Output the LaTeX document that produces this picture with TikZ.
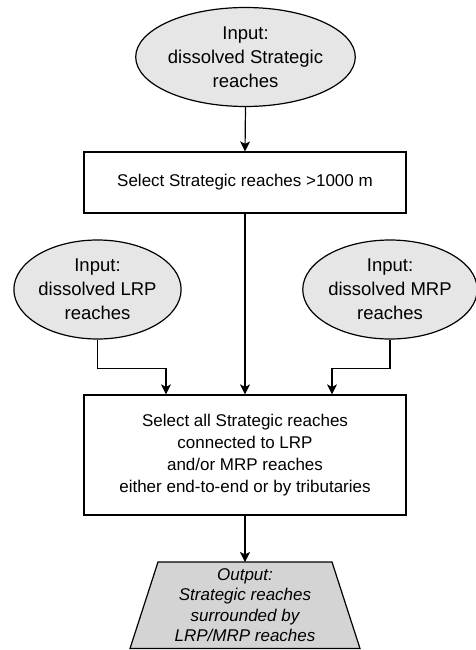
\documentclass[tikz,border=0pt]{standalone}
\usepackage{fontspec}
\setmainfont{Liberation Sans}
\usetikzlibrary{arrows.meta,shapes.geometric}
\definecolor{inputfill}{HTML}{E6E6E6}
\definecolor{outputfill}{HTML}{D4D4D4}
\begin{document}
\begin{tikzpicture}[x=1pt,y=-1pt,
  every node/.style={font=\fontsize{17}{22}\selectfont, align=center},
  inp/.style={ellipse, draw, line width=1.2pt, fill=inputfill,
    minimum width=165pt, minimum height=99pt, inner sep=0pt,
    font=\fontsize{18.5}{24}\selectfont},
  proc/.style={rectangle, draw, line width=1.2pt, fill=white,
    minimum width=322pt, inner sep=0pt},
  flow/.style={line width=1.2pt, -{Stealth[length=10pt,width=10pt,inset=2.5pt]}}]
  \useasboundingbox (0,0) rectangle (475,650);

  % inputs
  \node[inp] (strat) at (245.5,57) {Input:\\dissolved Strategic\\reaches};
  \node[inp] (lrp) at (97.5,289.5) {Input:\\dissolved LRP\\reaches};
  \node[inp] (mrp) at (390,289.5) {Input:\\dissolved MRP\\reaches};

  % processing steps
  \node[proc, minimum height=61pt] (sel) at (245,182.5)
    {Select Strategic reaches >1000 m};
  \node[proc, minimum height=120pt] (all) at (245,455)
    {Select all Strategic reaches\\connected to LRP\\and/or MRP reaches\\either end-to-end or by tributaries};

  % output trapezoid
  \coordinate (otl) at (158,562);
  \coordinate (otr) at (332,562);
  \coordinate (obr) at (360,648.5);
  \coordinate (obl) at (130,648.5);
  \coordinate (otop) at (245,562);
  \filldraw[fill=outputfill, line width=1.2pt] (otl) -- (otr) -- (obr) -- (obl) -- cycle;
  \node[font=\itshape\fontsize{17}{20.5}\selectfont] (out) at (245,605)
    {Output:\\Strategic reaches\\surrounded by\\LRP/MRP reaches};

  % connectors
  \draw[flow] (strat.south) -- (sel.north);
  \draw[flow] (sel.south) -- (all.north);
  \draw[flow] (lrp.south) -- ++(0,29) -| ([xshift=-79pt]all.north);
  \draw[flow] (mrp.south) -- ++(0,29) -| ([xshift=87pt]all.north);
  \draw[flow] (all.south) -- (otop);
\end{tikzpicture}
\end{document}
